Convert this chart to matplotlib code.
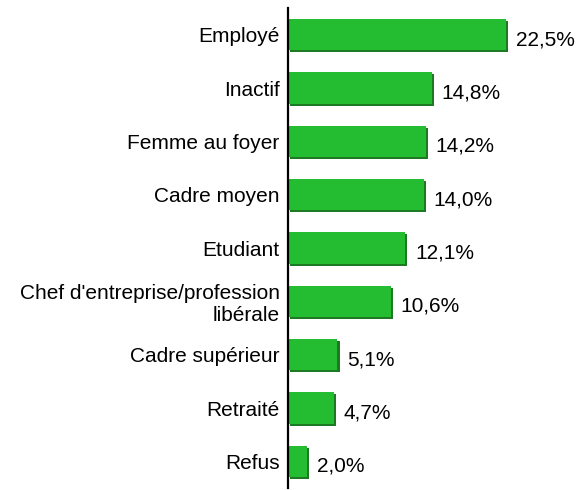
import matplotlib
matplotlib.use("Agg")
import matplotlib.pyplot as plt
import matplotlib.patheffects as pe

categories = ["Employé", "Inactif", "Femme au foyer", "Cadre moyen", "Etudiant",
              "Chef d'entreprise/profession\nlibérale", "Cadre supérieur", "Retraité", "Refus"]
values = [22.5, 14.8, 14.2, 14.0, 12.1, 10.6, 5.1, 4.7, 2.0]
value_labels = ["22,5%", "14,8%", "14,2%", "14,0%", "12,1%", "10,6%", "5,1%", "4,7%", "2,0%"]

plt.rcParams['font.family'] = ['Liberation Sans', 'DejaVu Sans']

fig = plt.figure(figsize=(5.76, 4.9), dpi=100)
ax = fig.add_axes([288/576, 2/490, 288/576, 480/490])

ypos = list(range(len(categories)))
bars = ax.barh(ypos, values, height=0.59, color='#24BC31', edgecolor='none', zorder=3)
for b in bars:
    b.set_path_effects([pe.SimplePatchShadow(offset=(1.5, -1.5), shadow_rgbFace='#1D7A22', alpha=1.0), pe.Normal()])

ax.set_ylim(len(categories) - 0.5, -0.5)
ax.set_xlim(0, 29.7)

for y, v, lab in zip(ypos, values, value_labels):
    ax.annotate(lab, xy=(v, y), xytext=(10, -5), textcoords='offset pixels',
                ha='left', va='center', fontsize=15, color='black')

ax.set_yticks(ypos)
ax.set_yticklabels(categories, fontsize=15, ha='right', multialignment='right')
ax.tick_params(axis='y', length=0, pad=6)
ax.set_xticks([])

for s in ['top', 'right', 'bottom']:
    ax.spines[s].set_visible(False)
ax.spines['left'].set_linewidth(1.6)
ax.spines['left'].set_color('black')
ax.spines['left'].set_zorder(5)

fig.savefig("out.png", dpi=100)
